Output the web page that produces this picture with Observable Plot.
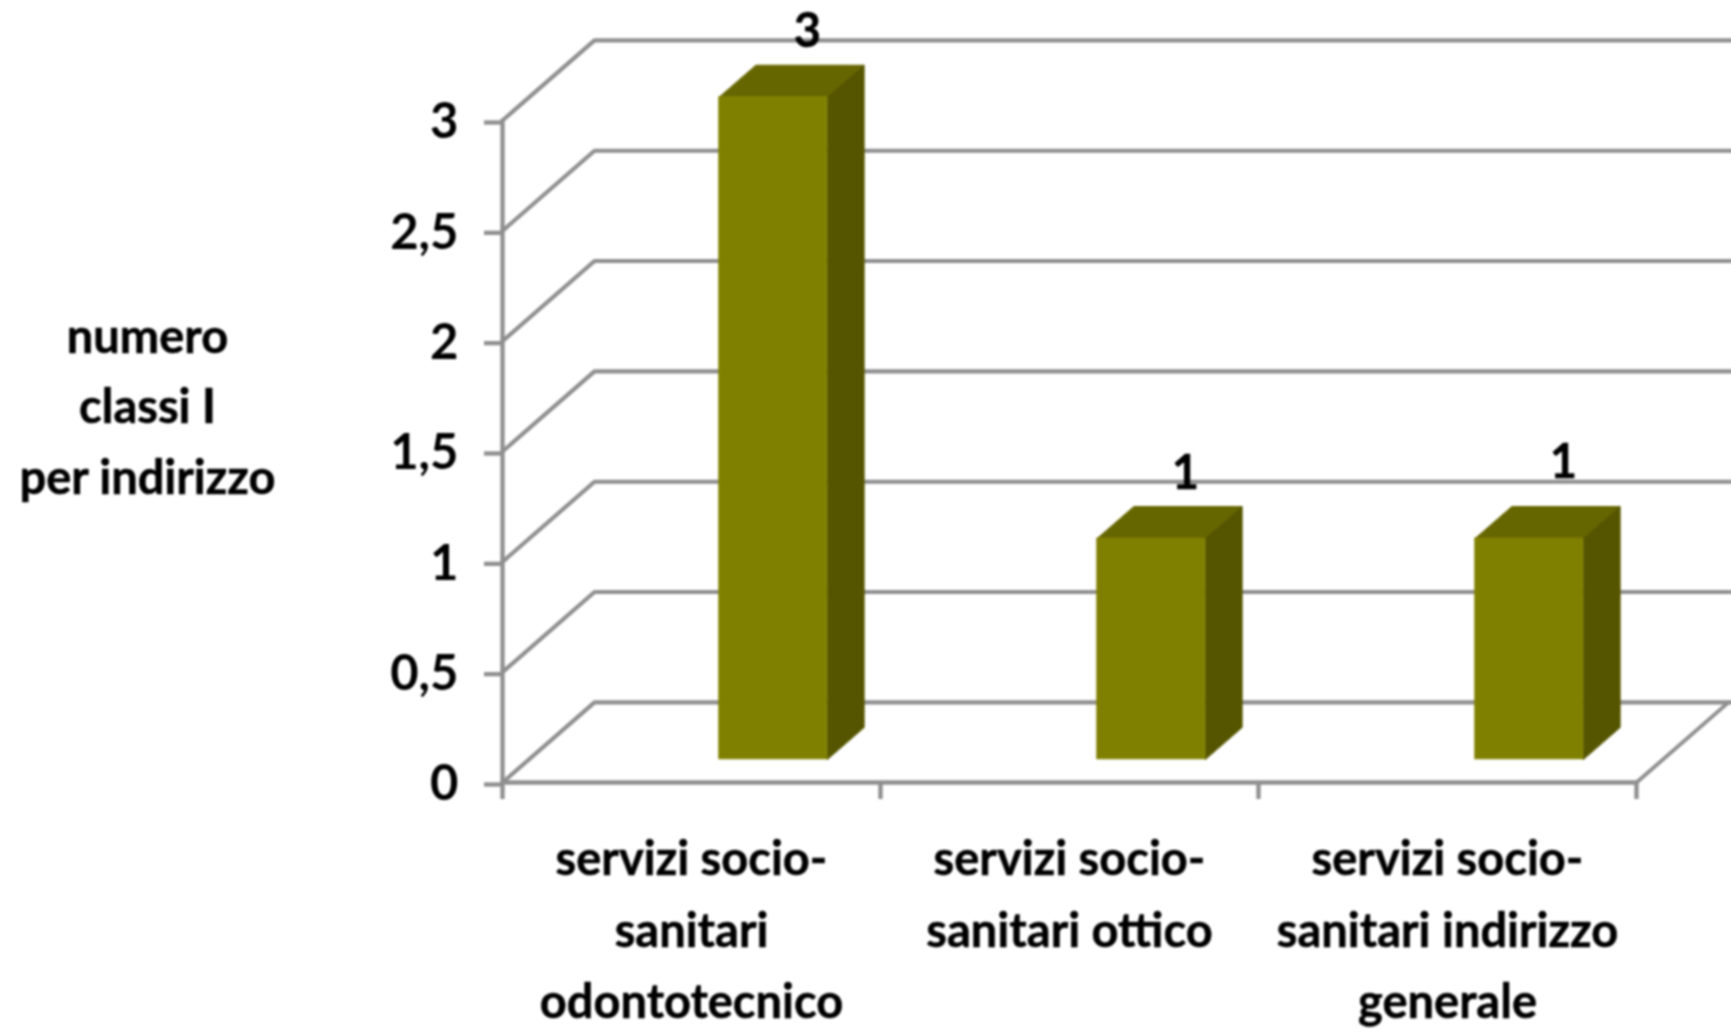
<!DOCTYPE html>
<html>
<head>
<meta charset="utf-8">
<style>
html,body{margin:0;padding:0;background:#fff}
svg{display:block;overflow:visible;filter:blur(0.9px)}
</style>
<script src="https://cdn.jsdelivr.net/npm/d3@7"></script>
<script src="https://cdn.jsdelivr.net/npm/@observablehq/plot@0.6"></script>
</head>
<body>
<script>
const categories = ["servizi socio-\nsanitari\nodontotecnico", "servizi socio-\nsanitari ottico", "servizi socio-\nsanitari indirizzo\ngenerale"];
const values = [3, 1, 1];
const yTicks = [0, 0.5, 1, 1.5, 2, 2.5, 3];
const yTitle = "numero\nclassi I\nper indirizzo";

// oblique projection of the 3D box, in data units per unit of depth
const depthX = 0.2434, depthY = 0.363;
const project = (x, y, z) => ({x: x + z * depthX, y: y + z * depthY});
const barStart = 0.503, barWidth = 0.2857, barFront = 0.29, barBack = 0.69;

const grid = yTicks.flatMap(v => [
  {v, ...project(0, v, 0)},
  {v, ...project(0, v, 1)},
  {v, ...project(3.008, v, 1)}
]);
const floorEdge = [project(3, 0, 0), project(3, 0, 1)];
const frontAxis = [project(0, 0, 0), project(3, 0, 0)];
const leftAxis = [project(0, 0, 0), project(0, 3, 0)];

const bars = values.map((v, i) => ({i, v, x1: i + barStart, x2: i + barStart + barWidth}));
const face = (kind, corners) => corners.map(c => ({kind, ...project(...c)}));
const tops = bars.flatMap(b => face("top" + b.i, [[b.x1, b.v, barFront], [b.x2, b.v, barFront], [b.x2, b.v, barBack], [b.x1, b.v, barBack]]));
const sides = bars.flatMap(b => face("side" + b.i, [[b.x2, 0, barFront], [b.x2, b.v, barFront], [b.x2, b.v, barBack], [b.x2, 0, barBack]]));
const fronts = bars.map(b => ({...b,
  px1: project(b.x1, 0, barFront).x, px2: project(b.x2, 0, barFront).x,
  py1: project(b.x1, 0, barFront).y, py2: project(b.x1, b.v, barFront).y}));
const labelAnchor = bars.map(b => project(b.x1 + barWidth * 0.815, b.v, barFront));

const gridColor = "#8f8f8f", font = "Lato, sans-serif", textColor = "#000";
const textStyle = {fill: textColor, stroke: textColor, strokeWidth: 0.5, fontSize: 47, fontWeight: 700, fontFamily: font};

const plot = Plot.plot({
  width: 1731, height: 1033,
  marginTop: 120, marginBottom: 251, marginLeft: 502, marginRight: 95,
  style: {background: "#fff", fontFamily: font},
  x: {domain: [0, 3], axis: null},
  y: {domain: [0, 3], axis: null},
  marks: [
    Plot.line(grid, {x: "x", y: "y", z: "v", stroke: gridColor, strokeWidth: 4.1, strokeLinejoin: "miter"}),
    Plot.line(floorEdge, {x: "x", y: "y", stroke: gridColor, strokeWidth: 3.8}),
    Plot.line(frontAxis, {x: "x", y: "y", stroke: gridColor, strokeWidth: 4.3}),
    Plot.line(leftAxis, {x: "x", y: "y", stroke: gridColor, strokeWidth: 4.3}),
    Plot.axisY({ticks: yTicks, tickSize: 18, tickPadding: 26, stroke: gridColor, strokeWidth: 4.3,
      tickFormat: d => String(d).replace(".", ","), fill: textColor, fontSize: 49, fontWeight: 700, fontFamily: font, dy: 2}),
    Plot.axisX({ticks: [0, 1, 2, 3], tickSize: 17, stroke: gridColor, strokeWidth: 4.3, tickFormat: () => ""}),
    Plot.line(tops, {x: "x", y: "y", z: "kind", fill: "#666600", stroke: "#666600", strokeWidth: 1, curve: "linear-closed"}),
    Plot.line(sides, {x: "x", y: "y", z: "kind", fill: "#555500", stroke: "#555500", strokeWidth: 1, curve: "linear-closed"}),
    Plot.rect(fronts, {x1: "px1", x2: "px2", y1: "py1", y2: "py2", fill: "#808000", stroke: "#808000", strokeWidth: 1}),
    Plot.text(labelAnchor.slice(0, 2), {x: "x", y: "y", text: (d, i) => String(values[i]), dy: -65, ...textStyle}),
    Plot.text(labelAnchor.slice(2), {x: "x", y: "y", text: () => String(values[2]), dy: -76, ...textStyle}),
    Plot.text(categories, {x: (d, i) => i + 0.5, y: 0, text: d => d, dy: 42, lineHeight: 1.52, lineAnchor: "top", textAnchor: "middle", ...textStyle}),
    Plot.text([yTitle], {frameAnchor: "left", text: d => d, dx: -355, dy: -51, lineHeight: 1.5, textAnchor: "middle", ...textStyle})
  ]
});
document.body.appendChild(plot);
</script>
</body>
</html>
